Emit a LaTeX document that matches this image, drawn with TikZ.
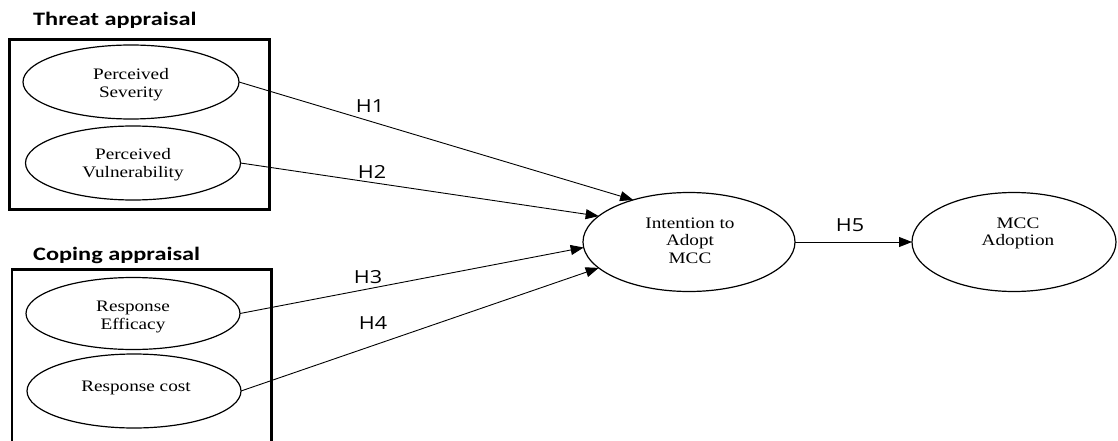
\documentclass[tikz,border=0pt]{standalone}
\usepackage{fontspec}
\newfontfamily\serifs[FakeStretch=1.2]{Liberation Serif}
\newfontfamily\titlef[FakeStretch=1.28]{Carlito}
\newfontfamily\hlab[FakeStretch=1.2]{Open Sans}
\usetikzlibrary{arrows.meta,shapes.geometric}
\begin{document}
\begin{tikzpicture}[x=1pt,y=-1pt,
  ell/.style={draw, ellipse, line width=1.2pt, inner sep=0pt, outer sep=0pt},
  lbl/.style={font=\serifs\fontsize{16}{18}\selectfont, align=center, inner sep=0pt, anchor=north},
  lblb/.style={font=\serifs\fontsize{16}{17.5}\selectfont, align=center, inner sep=0pt, anchor=north},
  hl/.style={font=\hlab\fontsize{18}{20}\selectfont, inner sep=0pt},
  conn/.style={line width=0.9pt, -{Triangle[length=13pt,width=10pt]}},
  grp/.style={line width=2.5pt},
  ttl/.style={font=\titlef\bfseries\fontsize{19}{22}\selectfont, inner sep=0pt, anchor=base west}]
\useasboundingbox (0,0) rectangle (1118,441);

% group boxes
\draw[grp] (9.5,39.5) rectangle (269.5,209.5);
\draw[grp] (12,441) -- (12,269.5) -- (271.5,269.5) -- (271.5,441);
\node[ttl] (t1) at (33,26) {Threat appraisal};
\node[ttl] (t2) at (33,260.5) {Coping appraisal};

% ellipses
\node[ell, minimum width=216pt, minimum height=74pt] (ps) at (131,82) {};
\node[ell, minimum width=215pt, minimum height=74pt] (pv) at (133,163) {};
\node[ell, minimum width=214pt, minimum height=72pt] (re) at (133,313.5) {};
\node[ell, minimum width=214pt, minimum height=74pt] (rc) at (134,391) {};
\node[ell, minimum width=212pt, minimum height=99pt] (int) at (689,242) {};
\node[ell, minimum width=204pt, minimum height=99pt] (mcc) at (1014,242) {};

% ellipse texts
\node[lbl] (pst) at (131,68.1) {Perceived\\Severity};
\node[lbl] (pvt) at (133,148.4) {Perceived\\Vulnerability};
\node[lbl] (ret) at (133,300.4) {Response\\Efficacy};
\node[lbl] (rct) at (136,380.4) {Response cost};
\node[lblb] (intt) at (690,217.4) {Intention to\\Adopt\\MCC};
\node[lblb] (mcct) at (1018,217.4) {MCC\\Adoption};

% connectors
\draw[conn] (ps.east) -- (int.143);
\draw[conn] (pv.east) -- (int.164);
\draw[conn] (re.east) -- (int.183);
\draw[conn] (rc.east) -- (int.196);
\draw[conn] (int.east) -- (mcc.west);

% hypothesis labels
\node[hl] (h1) at (370,106) {H1};
\node[hl] (h2) at (372,171.5) {H2};
\node[hl] (h3) at (368,277) {H3};
\node[hl] (h4) at (373,323) {H4};
\node[hl] (h5) at (850,225) {H5};
\end{tikzpicture}
\end{document}
